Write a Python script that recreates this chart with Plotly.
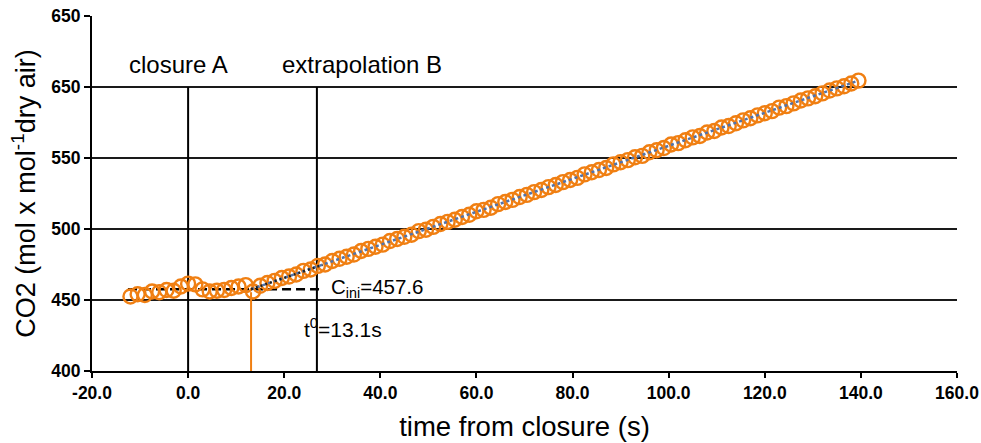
import plotly.graph_objects as go

# ---- data ----
time_s = [-12, -10.5, -9, -7.5, -6, -4.5, -3, -1.5, 0, 1.5, 3, 4.5, 6, 7.5, 9, 10.5, 12, 13.5,
          15, 16.5, 18, 19.5, 21, 22.5, 24, 25.5, 27, 28.5, 30, 31.5, 33, 34.5, 36, 37.5, 39, 40.5,
          42, 43.5, 45, 46.5, 48, 49.5, 51, 52.5, 54, 55.5, 57, 58.5, 60, 61.5, 63, 64.5, 66, 67.5,
          69, 70.5, 72, 73.5, 75, 76.5, 78, 79.5, 81, 82.5, 84, 85.5, 87, 88.5, 90, 91.5, 93, 94.5,
          96, 97.5, 99, 100.5, 102, 103.5, 105, 106.5, 108, 109.5, 111, 112.5, 114, 115.5, 117, 118.5,
          120, 121.5, 123, 124.5, 126, 127.5, 129, 130.5, 132, 133.5, 135, 136.5, 138, 139.5]
co2 = [452.5, 454.0, 453.5, 456.0, 455.5, 457.0, 456.5, 459.5, 461.5, 461.0, 457.5, 456.0, 456.5, 457.0, 458.5, 459.5, 460.5, 456.0,
       460.0, 462.0, 463.5, 465.5, 466.5, 468.0, 470.5, 471.5, 474.0, 475.0, 477.5, 479.0, 480.5, 482.0, 484.5, 486.0, 487.5, 489.0,
       491.5, 493.0, 494.5, 496.0, 498.5, 499.5, 501.5, 503.5, 505.0, 506.5, 508.5, 510.0, 512.5, 513.5, 515.0, 517.5, 519.0, 520.5,
       522.5, 524.0, 526.0, 527.5, 529.5, 531.0, 533.0, 534.5, 536.0, 538.5, 540.0, 541.5, 543.0, 545.5, 547.0, 548.5, 550.5, 551.5,
       554.0, 555.5, 557.0, 559.5, 560.5, 562.5, 564.5, 565.5, 568.0, 569.0, 571.5, 572.5, 574.5, 576.5, 578.0, 580.0,
       581.5, 583.0, 585.5, 586.5, 588.5, 590.5, 592.0, 593.5, 595.5, 597.5, 599.0, 600.5, 602.5, 604.5]

fit_t = [13.1, 139.5]
fit_c = [457.6, 604.5]
fit_start_t = [13.1, 28.0]
fit_start_c = [457.6, 474.8]

c_ini = 457.6
t0 = 13.1
c_ini_span_t = [-12.5, 27.5]
closure_t = 0.0
extrap_t = 26.8
vline_bottom = 400
vline_top = 600
t0_point_c = 455.5

x_tickvals = [-20, 0, 20, 40, 60, 80, 100, 120, 140, 160]
x_ticktext = ["-20.0", "0.0", "20.0", "40.0", "60.0", "80.0", "100.0", "120.0", "140.0", "160.0"]
y_tickvals = [400, 450, 500, 550, 600, 650]
y_ticktext = ["400", "450", "500", "550", "650", "650"]
y_gridvals = [450, 500, 550, 600]

ORANGE = "#F07F12"
BLUE = "#5273AA"
FONT = "Liberation Sans, Arial, sans-serif"

fig = go.Figure()

# vertical reference lines
fig.add_trace(go.Scatter(x=[closure_t, closure_t], y=[vline_bottom, vline_top], mode="lines",
                         line=dict(color="black", width=2), hoverinfo="skip", showlegend=False))
fig.add_trace(go.Scatter(x=[extrap_t, extrap_t], y=[vline_bottom, vline_top], mode="lines",
                         line=dict(color="black", width=2), hoverinfo="skip", showlegend=False))
# C_ini dashed line
fig.add_trace(go.Scatter(x=c_ini_span_t, y=[c_ini, c_ini], mode="lines",
                         line=dict(color="black", width=2.5, dash="9px,5px"), hoverinfo="skip", showlegend=False))
# orange t0 line
fig.add_trace(go.Scatter(x=[t0, t0], y=[vline_bottom, t0_point_c], mode="lines",
                         line=dict(color=ORANGE, width=2), hoverinfo="skip", showlegend=False))
# measured points
fig.add_trace(go.Scatter(x=time_s, y=co2, mode="markers",
                         marker=dict(symbol="circle-open", size=14, color=ORANGE, line=dict(width=2.4, color=ORANGE)),
                         showlegend=False))
# fit line
fig.add_trace(go.Scatter(x=fit_t, y=fit_c, mode="lines",
                         line=dict(color=BLUE, width=2.5, dash="3px,3px"), hoverinfo="skip", showlegend=False))
fig.add_trace(go.Scatter(x=fit_start_t, y=fit_start_c, mode="lines",
                         line=dict(color="#222222", width=2.5, dash="2px,3px"), hoverinfo="skip", showlegend=False))

annots = [
    dict(x=-2.1, y=616, text="closure A", font=dict(size=24), xanchor="center", yanchor="middle"),
    dict(x=36.2, y=616, text="extrapolation B", font=dict(size=24), xanchor="center", yanchor="middle"),
    dict(x=29.3, y=458.5, text="C<sub>ini</sub>=457.6", font=dict(size=20.5), xanchor="left", yanchor="middle"),
    dict(x=23.6, y=430.5, text="t<sup>0</sup>=13.1s", font=dict(size=21), xanchor="left", yanchor="middle"),
]
for a in annots:
    a.update(xref="x", yref="y", showarrow=False)
    a["font"].update(family=FONT, color="black")

fig.update_layout(
    width=981, height=443,
    margin=dict(l=92, r=24, t=16, b=72, autoexpand=False),
    paper_bgcolor="white", plot_bgcolor="white",
    font=dict(family=FONT, color="black"),
    annotations=annots,
    xaxis=dict(range=[-20, 160], tickmode="array", tickvals=x_tickvals,
               ticktext=["<b>" + t + "</b>" for t in x_ticktext],
               showgrid=False, zeroline=False, showline=True, linecolor="black", linewidth=2,
               ticks="outside", ticklen=5, tickwidth=2, tickcolor="black", automargin=False,
               tickfont=dict(size=17.5, family=FONT),
               title=dict(text="time from closure (s)", font=dict(size=27.5, family=FONT), standoff=15)),
    yaxis=dict(range=[400, 650], tickmode="array", tickvals=y_tickvals,
               ticktext=["<b>" + t + "</b>" for t in y_ticktext],
               showgrid=False, zeroline=False, showline=True, linecolor="black", linewidth=2,
               ticks="outside", ticklen=6, tickwidth=2, tickcolor="black", automargin=False,
               tickfont=dict(size=17.5, family=FONT),
               minor=dict(tickmode="array", tickvals=y_gridvals, showgrid=True,
                          gridcolor="#1a1a1a", gridwidth=2, ticks=""),
               title=dict(text="CO2 (mol x mol<sup>-1</sup>dry air)", font=dict(size=27, family=FONT), standoff=8)),
)

fig.write_html("out.html", config={"displayModeBar": False},
               post_script="document.body.style.margin='0';")
